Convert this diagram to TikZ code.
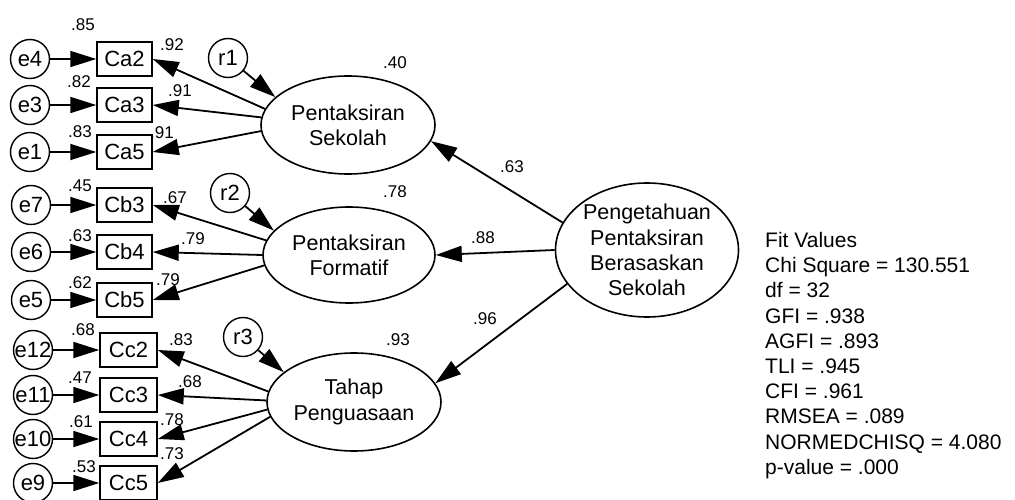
\documentclass[tikz,border=0pt]{standalone}
\usepackage{fontspec}
\setmainfont{Liberation Sans}
\usetikzlibrary{shapes.geometric,arrows.meta}
\newcommand\ctrtext[1]{\makebox[0pt]{#1}}
\begin{document}
\begin{tikzpicture}[x=1pt,y=-1pt,
  every node/.style={font=\fontsize{22}{25}\selectfont},
  ln/.style={line width=1.8pt, -{Triangle[length=26pt,width=16pt]}},
  err/.style={circle, draw, line width=1.4pt, minimum size=39pt, inner sep=0pt},
  obs/.style={rectangle, draw, line width=1.5pt, minimum width=55pt, minimum height=34pt, inner sep=0pt},
  lat/.style={ellipse, draw, line width=1.6pt, inner sep=0pt, align=center, font=\fontsize{21.5}{25.3}\selectfont},
  lbl/.style={font=\fontsize{17}{20}\selectfont, inner sep=0pt}
]
\useasboundingbox (0,0) rectangle (1015,500);

% latent variables
\node[lat, minimum width=174pt, minimum height=98pt] (S) at (348,125) {Pentaksiran\\Sekolah};
\node[lat, minimum width=172pt, minimum height=96pt] (F) at (349,255) {Pentaksiran\\Formatif};
\node[lat, minimum width=174pt, minimum height=98pt] (T) at (354,402) {Tahap\\Penguasaan};
\node[lat, minimum width=183pt, minimum height=134pt] (P) at (647,250) {Pengetahuan\\Pentaksiran\\Berasaskan\\Sekolah};

% residuals
\node[err] (r1) at (228,58) {\ctrtext{r1}};
\node[err] (r2) at (230,193) {\ctrtext{r2}};
\node[err] (r3) at (243,337) {\ctrtext{r3}};

% observed
\node[obs] (Ca2) at (124.5,59) {Ca2};
\node[obs] (Ca3) at (124.5,105) {Ca3};
\node[obs] (Ca5) at (124.5,152) {Ca5};
\node[obs] (Cb3) at (124.5,205) {Cb3};
\node[obs] (Cb4) at (124.5,252) {Cb4};
\node[obs] (Cb5) at (124.5,300) {Cb5};
\node[obs, minimum width=57pt] (Cc2) at (128.5,350) {Cc2};
\node[obs, minimum width=57pt] (Cc3) at (128.5,395) {Cc3};
\node[obs, minimum width=57pt] (Cc4) at (128.5,439) {Cc4};
\node[obs, minimum width=57pt] (Cc5) at (128.5,483) {Cc5};

% errors
\node[err] (e4) at (30,59) {\ctrtext{e4}};
\node[err] (e3) at (30,105) {\ctrtext{e3}};
\node[err] (e1) at (30,152) {\ctrtext{e1}};
\node[err] (e7) at (31,205) {\ctrtext{e7}};
\node[err] (e6) at (31,252) {\ctrtext{e6}};
\node[err] (e5) at (31,300) {\ctrtext{e5}};
\node[err] (e12) at (33,350) {\ctrtext{e12}};
\node[err] (e11) at (33,395) {\ctrtext{e11}};
\node[err] (e10) at (33,439) {\ctrtext{e10}};
\node[err] (e9) at (33,483) {\ctrtext{e9}};

% error arrows
\foreach \a/\b in {e4/Ca2,e3/Ca3,e1/Ca5,e7/Cb3,e6/Cb4,e5/Cb5,e12/Cc2,e11/Cc3,e10/Cc4,e9/Cc5}
  \draw[ln] (\a) -- (\b);

% loadings
\draw[ln] (S.169) -- (Ca2.east);
\draw[ln] (S.175) -- (Ca3.east);
\draw[ln] (S.184) -- (Ca5.east);
\draw[ln] (F.170) -- (Cb3.east);
\draw[ln] (F.180) -- (Cb4.east);
\draw[ln] (F.187) -- (Cb5.east);
\draw[ln] (T.173) -- (Cc2.east);
\draw[ln] (T.179) -- (Cc3.east);
\draw[ln] (T.185) -- (Cc4.east);
\draw[ln] (T.190) -- (Cc5.east);

% residual arrows
\draw[ln] (r1) -- (S.159);
\draw[ln] (r2) -- (F.162);
\draw[ln] (r3) -- (T.157);

% structural paths
\draw[ln] (P.162) -- (S.-11);
\draw[ln] (P.180) -- (F.0);
\draw[ln] (P.203) -- (T.13);

% labels
\node[lbl] (l1) at (83,25) {.85};
\node[lbl] (l2) at (172,45) {.92};
\node[lbl] (l3) at (79,82) {.82};
\node[lbl] (l4) at (180,91) {.91};
\node[lbl] (l5) at (80,132) {.83};
\node[lbl] (l6) at (162,133) {.91};
\node[lbl] (l7) at (395,63) {.40};
\node[lbl] (l8) at (80,186) {.45};
\node[lbl] (l9) at (175,198) {.67};
\node[lbl] (l10) at (80,236) {.63};
\node[lbl] (l11) at (193,239) {.79};
\node[lbl] (l12) at (80,283) {.62};
\node[lbl] (l13) at (168,280) {.79};
\node[lbl] (l14) at (83,330) {.68};
\node[lbl] (l15) at (181,340) {.83};
\node[lbl] (l16) at (80,378) {.47};
\node[lbl] (l17) at (190,382) {.68};
\node[lbl] (l18) at (81,422) {.61};
\node[lbl] (l19) at (172,420) {.78};
\node[lbl] (l20) at (172,454) {.73};
\node[lbl] (l21) at (84,467) {.53};
\node[lbl] (l22) at (395,192) {.78};
\node[lbl] (l23) at (398,340) {.93};
\node[lbl] (l24) at (512,167) {.63};
\node[lbl] (l25) at (483,238) {.88};
\node[lbl] (l26) at (485,319) {.96};

% fit values
\node[anchor=north west, align=left, inner sep=0pt, font=\fontsize{21}{25.2}\selectfont] (fit) at (765,232)
  {Fit Values\\Chi Square = 130.551\\df = 32\\GFI = .938\\AGFI = .893\\TLI = .945\\CFI = .961\\RMSEA = .089\\NORMEDCHISQ = 4.080\\p-value = .000};
\end{tikzpicture}
\end{document}
